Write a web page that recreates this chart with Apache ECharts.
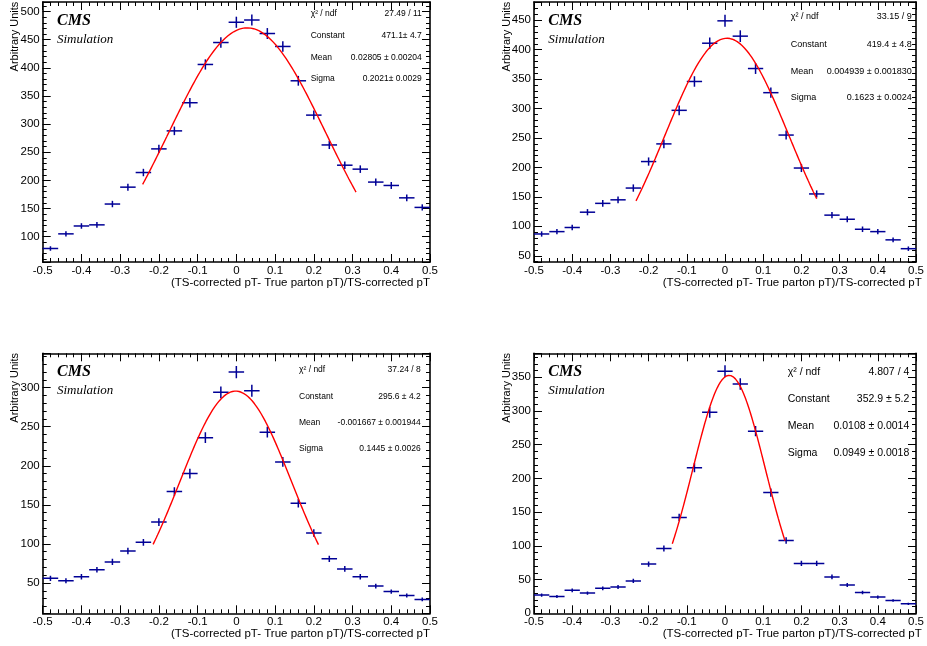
<!DOCTYPE html>
<html>
<head>
<meta charset="utf-8">
<script src="https://cdn.jsdelivr.net/npm/echarts@6/dist/echarts.min.js"></script>
<style>
  html, body { margin: 0; padding: 0; background: #fff; }
  #chart { width: 927px; height: 646px; }
</style>
</head>
<body>
<div id="chart"></div>
<script>
// Histogram bins: 25 bins of width 0.04 over [-0.5, 0.5]
const binCenters = [-0.48, -0.44, -0.40, -0.36, -0.32, -0.28, -0.24, -0.20, -0.16, -0.12, -0.08, -0.04,
                    0.00, 0.04, 0.08, 0.12, 0.16, 0.20, 0.24, 0.28, 0.32, 0.36, 0.40, 0.44, 0.48];
const binWidth = 0.04;

// Panel A (top left)
const countsA = [79, 105, 119, 121, 158, 188, 214, 256, 288, 338, 406, 445, 481, 485, 461, 438, 377, 316, 263, 227, 220, 197, 191, 169, 152];
const errorsA = [4.0, 4.6, 4.9, 5.0, 5.7, 6.2, 6.6, 7.2, 7.6, 8.3, 9.1, 9.5, 9.9, 9.9, 9.7, 9.4, 8.7, 8.0, 7.3, 6.8, 6.7, 6.3, 6.2, 5.9, 5.5];
const fitA = { constant: 471.1, mean: 0.02805, sigma: 0.2021 };
const fitRangeA = [-0.242, 0.309];
const statValuesA = ['27.49 / 11', '471.1\u00b1 4.7', '0.02805 \u00b1 0.00204', '0.2021\u00b1 0.0029'];

// Panel B (top right)
const countsB = [87, 91, 98, 124, 139, 145, 165, 210, 240, 297, 346, 411, 449, 423, 368, 327, 255, 199, 155, 119, 112, 95, 91, 77, 62];
const errorsB = [4.5, 4.6, 4.8, 5.3, 5.7, 5.8, 6.2, 7.0, 7.4, 8.3, 8.9, 9.7, 10.2, 9.9, 9.2, 8.7, 7.7, 6.8, 6.0, 5.2, 5.1, 4.7, 4.6, 4.2, 3.8];
const fitB = { constant: 419.4, mean: 0.004939, sigma: 0.1623 };
const fitRangeB = [-0.233, 0.240];
const statValuesB = ['33.15 / 9', '419.4 \u00b1 4.8', '0.004939 \u00b1 0.001830', '0.1623 \u00b1 0.0024'];

// Panel C (bottom left)
const countsC = [56, 53, 58, 67, 77, 91, 102, 128, 167, 190, 236, 294, 320, 296, 243, 205, 152, 114, 81, 68, 58, 46, 39, 34, 29];
const errorsC = [3.3, 3.2, 3.4, 3.6, 3.9, 4.2, 4.4, 5.0, 5.7, 6.1, 6.8, 7.5, 7.9, 7.6, 6.9, 6.3, 5.4, 4.7, 4.0, 3.6, 3.4, 3.0, 2.7, 2.6, 2.4];
const fitC = { constant: 295.6, mean: -0.001667, sigma: 0.1445 };
const fitRangeC = [-0.215, 0.212];
const statValuesC = ['37.24 / 8', '295.6 \u00b1 4.2', '-0.001667 \u00b1 0.001944', '0.1445 \u00b1 0.0026'];

// Panel D (bottom right)
const countsD = [27, 25, 34, 30, 37, 39, 48, 73, 96, 142, 216, 298, 359, 340, 270, 179, 108, 74, 74, 54, 42, 31, 24, 19, 14];
const errorsD = [2.4, 2.3, 2.7, 2.5, 2.8, 2.9, 3.2, 3.9, 4.5, 5.5, 6.8, 7.9, 8.7, 8.5, 7.6, 6.2, 4.8, 4.0, 4.0, 3.4, 3.0, 2.6, 2.3, 2.0, 1.7];
const fitD = { constant: 352.9, mean: 0.0108, sigma: 0.0949 };
const fitRangeD = [-0.138, 0.157];
const statValuesD = ['4.807 / 4', '352.9 \u00b1 5.2', '0.0108 \u00b1 0.0014', '0.0949 \u00b1 0.0018'];

const statNames = ['\u03c7\u00b2 / ndf', 'Constant', 'Mean', 'Sigma'];
const xRange = [-0.5, 0.5];
const yRanges = [[55, 517], [39.4, 481], [11.2, 344], [0, 385.6]];
const xTitle = '(TS-corrected pT- True parton pT)/TS-corrected pT';
const yTitle = 'Arbitrary Units';

// ---- layout & style ----
const panels = [
  { counts: countsA, errors: errorsA, fit: fitA, range: fitRangeA, stats: statValuesA,
    frame: { left: 42.7, top: 2, width: 387.3, height: 260 },
    stat: { left: 268, right: 8.3, rows: [11.3, 33.7, 55.7, 76.7], size: 8.5 } },
  { counts: countsB, errors: errorsB, fit: fitB, range: fitRangeB, stats: statValuesB,
    frame: { left: 534, top: 2, width: 387.7, height: 260 },
    stat: { left: 256.7, right: 10, rows: [14.7, 43, 69.7, 95.7], size: 9 } },
  { counts: countsC, errors: errorsC, fit: fitC, range: fitRangeC, stats: statValuesC,
    frame: { left: 42.7, top: 353.3, width: 387.3, height: 260 },
    stat: { left: 256.3, right: 9.3, rows: [16, 43.4, 69.4, 95.7], size: 8.5 } },
  { counts: countsD, errors: errorsD, fit: fitD, range: fitRangeD, stats: statValuesD,
    frame: { left: 534, top: 353.3, width: 387.7, height: 260 },
    stat: { left: 253.7, right: 12.4, rows: [19, 46, 72.7, 99.4], size: 10.5 } }
];

const SANS = '"Liberation Sans", Arial, Helvetica, sans-serif';
const SERIF = '"Liberation Serif", "Times New Roman", serif';
const markerColor = '#000096';
const fitColor = '#ff0000';

function isMultiple(v, step) {
  const q = v / step;
  return Math.abs(q - Math.round(q)) < 1e-6;
}

// one value axis; step fixes the tick spacing while ticks stay on multiples of step
function valueAxis(kind, grid, position, range, step, tickLen, withLabels, withLine) {
  const ax = {
    type: 'value', gridIndex: grid, position: position,
    min: range[0], max: range[1],
    minInterval: step, maxInterval: step, splitNumber: Math.round((range[1] - range[0]) / step),
    axisLine: { show: withLine, onZero: false, lineStyle: { color: '#000', width: 1.6 } },
    axisTick: { show: true, inside: true, length: tickLen, lineStyle: { color: '#000', width: 1 } },
    splitLine: { show: false },
    axisLabel: { show: withLabels, color: '#000', fontFamily: SANS, fontSize: 11.5, margin: 3 }
  };
  if (withLabels) {
    ax.axisLabel.formatter = function (v) { return isMultiple(v, step) ? String(+v.toFixed(6)) : ''; };
  }
  return ax;
}

const gaussian = (f, x) => f.constant * Math.exp(-0.5 * Math.pow((x - f.mean) / f.sigma, 2));

const grids = [], xAxes = [], yAxes = [], series = [], graphics = [];

panels.forEach((p, g) => {
  grids.push({ left: p.frame.left, top: p.frame.top, width: p.frame.width, height: p.frame.height,
               containLabel: false, show: false });
  const yr = yRanges[g];
  const xBase = xAxes.length, yBase = yAxes.length;
  // x axes: bottom major (labels), bottom minor, top major, top minor
  xAxes.push(valueAxis('x', g, 'bottom', xRange, 0.1, 8, true, true));
  xAxes.push(valueAxis('x', g, 'bottom', xRange, 0.02, 4, false, false));
  xAxes.push(valueAxis('x', g, 'top', xRange, 0.1, 8, false, true));
  xAxes.push(valueAxis('x', g, 'top', xRange, 0.02, 4, false, false));
  // y axes: left major (labels), left minor, right major, right minor
  yAxes.push(valueAxis('y', g, 'left', yr, 50, 8, true, true));
  yAxes.push(valueAxis('y', g, 'left', yr, 10, 4, false, false));
  yAxes.push(valueAxis('y', g, 'right', yr, 50, 8, false, true));
  yAxes.push(valueAxis('y', g, 'right', yr, 10, 4, false, false));

  // histogram points with bin-width and error bars
  series.push({
    type: 'custom', xAxisIndex: xBase, yAxisIndex: yBase, clip: true, z: 3,
    data: binCenters.map((c, i) => [c, p.counts[i], p.errors[i]]),
    encode: { x: 0, y: 1 },
    renderItem: function (params, api) {
      const x = api.value(0), y = api.value(1), e = api.value(2);
      const l = api.coord([x - binWidth / 2, y]), r = api.coord([x + binWidth / 2, y]);
      const lo = api.coord([x, y - e]), hi = api.coord([x, y + e]);
      const st = { stroke: markerColor, lineWidth: 1.5 };
      return { type: 'group', children: [
        { type: 'line', shape: { x1: l[0], y1: l[1], x2: r[0], y2: r[1] }, style: st },
        { type: 'line', shape: { x1: lo[0], y1: lo[1], x2: hi[0], y2: hi[1] }, style: st }
      ] };
    }
  });

  // Gaussian fit drawn from its fitted parameters over the fit range
  const nSamples = 150;
  const fitData = [];
  for (let k = 0; k <= nSamples; k++) {
    const x = p.range[0] + (p.range[1] - p.range[0]) * k / nSamples;
    fitData.push([x, gaussian(p.fit, x)]);
  }
  series.push({
    type: 'line', xAxisIndex: xBase, yAxisIndex: yBase, data: fitData, z: 4,
    showSymbol: false, smooth: false, silent: true,
    lineStyle: { color: fitColor, width: 1.4 }
  });

  const F = p.frame, S = p.stat;
  // CMS Simulation tag
  graphics.push({ type: 'text', x: F.left + 14.3, y: F.top + 18.8, silent: true,
    style: { text: 'CMS', font: 'italic bold 16px ' + SERIF, fill: '#000', align: 'left', verticalAlign: 'middle' } });
  graphics.push({ type: 'text', x: F.left + 14.3, y: F.top + 37.2, silent: true,
    style: { text: 'Simulation', font: 'italic 13px ' + SERIF, fill: '#000', align: 'left', verticalAlign: 'middle' } });
  // fit statistics
  statNames.forEach((name, r) => {
    graphics.push({ type: 'text', x: F.left + S.left, y: F.top + S.rows[r], silent: true,
      style: { text: name, font: S.size + 'px ' + SANS, fill: '#000', align: 'left', verticalAlign: 'middle' } });
    graphics.push({ type: 'text', x: F.left + F.width - S.right, y: F.top + S.rows[r], silent: true,
      style: { text: p.stats[r], font: S.size + 'px ' + SANS, fill: '#000', align: 'right', verticalAlign: 'middle' } });
  });
  // axis titles
  graphics.push({ type: 'text', x: F.left + F.width, y: F.top + F.height + 20.5, silent: true,
    style: { text: xTitle, font: '11.5px ' + SANS, fill: '#000', align: 'right', verticalAlign: 'middle' } });
  graphics.push({ type: 'text', x: F.left - 27.5, y: F.top - 0.3, rotation: Math.PI / 2, silent: true,
    style: { text: yTitle, font: '11px ' + SANS, fill: '#000', align: 'right', verticalAlign: 'middle' } });
});

const chart = echarts.init(document.getElementById('chart'), null, { renderer: 'canvas' });
chart.setOption({
  animation: false,
  backgroundColor: '#fff',
  grid: grids,
  xAxis: xAxes,
  yAxis: yAxes,
  series: series,
  graphic: graphics
});
</script>
</body>
</html>
